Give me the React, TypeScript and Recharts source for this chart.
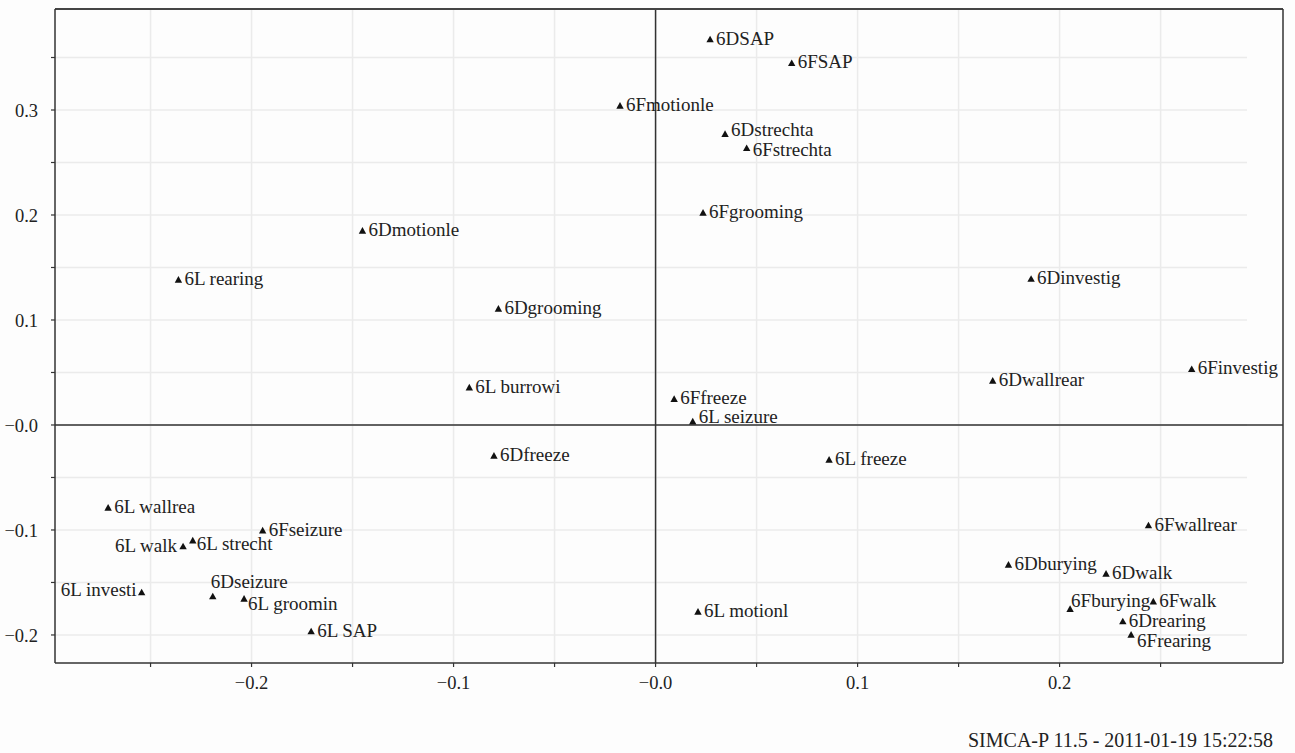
import { ScatterChart, Scatter, XAxis, YAxis, ReferenceLine } from 'recharts'

// loading plot
const names = [
  '6DSAP', '6FSAP', '6Fmotionle', '6Dstrechta', '6Fstrechta', '6Fgrooming', '6Dmotionle',
  '6L rearing', '6Dgrooming', '6L burrowi', '6Ffreeze', '6L seizure', '6L freeze', '6Dfreeze',
  '6Dinvestig', '6Dwallrear', '6Finvestig', '6Fwallrear', '6Dburying', '6Dwalk', '6Fburying',
  '6Fwalk', '6Drearing', '6Frearing', '6L motionl', '6L SAP', '6L groomin', '6Dseizure',
  '6L investi', '6L walk', '6L strecht', '6Fseizure', '6L wallrea',
]
const p1 = [
  0.027, 0.0674, -0.0176, 0.0344, 0.0451, 0.0235, -0.1451,
  -0.2362, -0.0778, -0.0922, 0.0092, 0.0184, 0.0859, -0.08,
  0.1859, 0.1669, 0.2654, 0.244, 0.1747, 0.223, 0.2052,
  0.2464, 0.2313, 0.2354, 0.021, -0.1705, -0.2037, -0.2192,
  -0.2544, -0.2339, -0.2291, -0.1945, -0.271,
]
const p2 = [
  0.367, 0.3445, 0.3038, 0.2769, 0.2635, 0.2019, 0.1848,
  0.1381, 0.1105, 0.0355, 0.0245, 0.0031, -0.0333, -0.0295,
  0.139, 0.0419, 0.053, -0.0959, -0.1333, -0.1419, -0.1755,
  -0.1683, -0.1873, -0.2, -0.1781, -0.1968, -0.1657, -0.1635,
  -0.1597, -0.1159, -0.1102, -0.1007, -0.079,
]

const xTicks = [-0.25, -0.2, -0.15, -0.1, -0.05, 0, 0.05, 0.1, 0.15, 0.2, 0.25]
const yTicks = [-0.2, -0.15, -0.1, -0.05, 0, 0.05, 0.1, 0.15, 0.2, 0.25, 0.3, 0.35]
const tickLabels: Record<string, string> = {
  '-0.2': '\u22120.2', '-0.1': '\u22120.1', '0': '\u22120.0', '0.1': '0.1', '0.2': '0.2', '0.3': '0.3',
}
const footer = 'SIMCA-P 11.5 - 2011-01-19 15:22:58'

const X_DOMAIN = [-0.2973, 0.3106]
const Y_DOMAIN = [-0.2267, 0.3962]
const GRID_END = 0.2928

// label nudges where SIMCA moved a label off the default spot
const labelNudge: Record<string, { dx: number; dy: number; end?: boolean }> = {
  '6Dstrechta': { dx: 6, dy: 1.5 },
  '6Fstrechta': { dx: 6, dy: 8 },
  '6L seizure': { dx: 6, dy: 1 },
  '6Frearing': { dx: 6, dy: 12 },
  '6Fburying': { dx: 1, dy: -2 },
  '6Dseizure': { dx: -2, dy: -8.5 },
  '6L walk': { dx: -6, dy: 5, end: true },
  '6L investi': { dx: -5, dy: 3.5, end: true },
  '6L groomin': { dx: 4, dy: 11 },
  '6L strecht': { dx: 4, dy: 9 },
}

const data = names.map((name, i) => ({ name, x: p1[i], y: p2[i] }))

const FONT = '"Liberation Serif", "Times New Roman", serif'

const fmt = (v: number) => tickLabels[String(Math.round(v * 100) / 100)] ?? ''

function Marker(props: any) {
  const { cx, cy, payload } = props
  const n = labelNudge[payload.name] ?? { dx: 6, dy: 5 }
  return (
    <g>
      <path d={`M${cx},${cy - 3.9}L${cx + 3.7},${cy + 2.7}L${cx - 3.7},${cy + 2.7}Z`} fill="#111" />
      <text
        x={cx + n.dx}
        y={cy + n.dy}
        textAnchor={n.end ? 'end' : 'start'}
        fontFamily={FONT}
        fontSize={19}
        fill="#222"
      >
        {payload.name}
      </text>
    </g>
  )
}

export default function App() {
  return (
    <div style={{ position: 'absolute', left: 0, top: 0, width: 1295, height: 753, background: '#fdfdfd' }}>
      <ScatterChart
        width={1295}
        height={753}
        margin={{ top: 9, right: 12, bottom: 50, left: 0 }}
        style={{ fontFamily: FONT }}
      >
        <XAxis
          type="number"
          dataKey="x"
          domain={X_DOMAIN}
          allowDataOverflow
          ticks={xTicks}
          tickFormatter={fmt}
          height={40}
          tickSize={4}
          tickMargin={9}
          interval={0}
          axisLine={{ stroke: '#333', strokeWidth: 1.5 }}
          tickLine={{ stroke: '#333', strokeWidth: 1.2 }}
          tick={{ fill: '#222', fontSize: 18.5, fontFamily: FONT }}
        />
        <YAxis
          type="number"
          dataKey="y"
          domain={Y_DOMAIN}
          allowDataOverflow
          ticks={yTicks}
          tickFormatter={fmt}
          width={55}
          tickSize={4}
          tickMargin={13}
          interval={0}
          axisLine={{ stroke: '#333', strokeWidth: 1.5 }}
          tickLine={{ stroke: '#333', strokeWidth: 1.2 }}
          tick={{ fill: '#222', fontSize: 18.5, fontFamily: FONT }}
        />
        {xTicks.map((t) => (
          <ReferenceLine key={'gx' + t} x={t} stroke="#ebebeb" strokeWidth={1.5} />
        ))}
        {yTicks.map((t) => (
          <ReferenceLine
            key={'gy' + t}
            segment={[{ x: X_DOMAIN[0], y: t }, { x: GRID_END, y: t }]}
            stroke="#ebebeb"
            strokeWidth={1.5}
          />
        ))}
        <ReferenceLine x={0} stroke="#333" strokeWidth={1.5} />
        <ReferenceLine y={0} stroke="#333" strokeWidth={1.5} />
        <ReferenceLine y={Y_DOMAIN[1]} stroke="#444" strokeWidth={2} />
        <ReferenceLine x={X_DOMAIN[1]} stroke="#333" strokeWidth={1.5} />
        <Scatter data={data} shape={Marker} isAnimationActive={false} />
      </ScatterChart>
      <div
        style={{
          position: 'absolute',
          right: 22,
          top: 729,
          fontFamily: FONT,
          fontSize: 20,
          lineHeight: '22px',
          color: '#222',
          whiteSpace: 'nowrap',
        }}
      >
        {footer}
      </div>
    </div>
  )
}
